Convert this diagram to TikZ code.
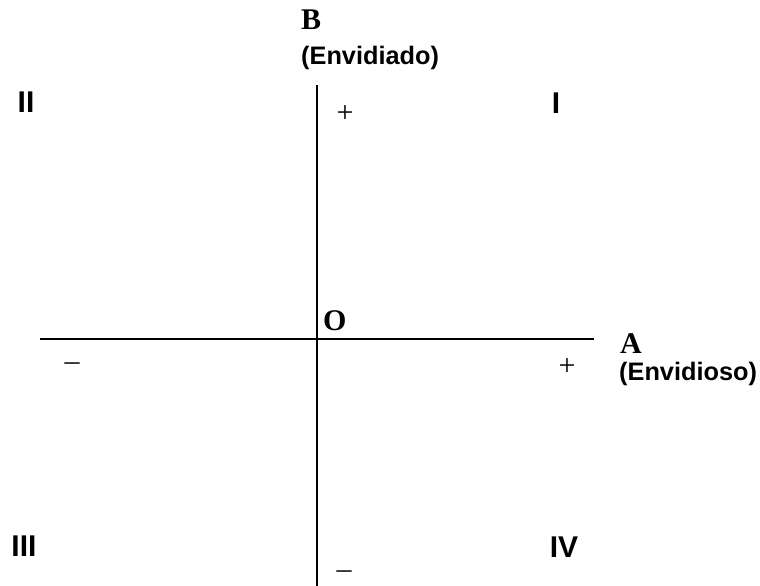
\documentclass[tikz,border=0pt]{standalone}
\usepackage{fontspec}
\setmainfont{Liberation Serif}
\setsansfont{Liberation Sans}
\usepackage{xcolor}
\definecolor{AxisBlack}{HTML}{000000}

\begin{document}
\begin{tikzpicture}[x=1pt, y=-1pt,
        axisline/.style={draw=AxisBlack, line width=2pt},
        axisname/.style={inner sep=0pt, anchor=base west, font=\fontsize{30}{30}\selectfont\bfseries\rmfamily},
        axisnote/.style={inner sep=0pt, anchor=base west, font=\fontsize{25.3}{25.3}\selectfont\bfseries\sffamily},
        quadrant/.style={inner sep=0pt, anchor=base, font=\fontsize{30}{30}\selectfont\bfseries\sffamily},
        signmark/.style={inner sep=0pt, anchor=base, font=\fontsize{30}{30}\selectfont\rmfamily}]
            \useasboundingbox (0,0) rectangle (760,586);

            % Axes
            \coordinate (topB) at (317,85);
            \coordinate (bottomB) at (317,586);
            \coordinate (leftA) at (40,339);
            \coordinate (rightA) at (594,339);
            \draw[axisline] (topB) -- (bottomB);
            \draw[axisline] (leftA) -- (rightA);

            % Axis names
            \node[axisname] (nameB) at (301,30) {B};
            \node[axisnote] (noteB) at (301,65) {(Envidiado)};
            \node[axisname] (nameA) at (620,353) {A};
            \node[axisnote] (noteA) at (619,380) {(Envidioso)};
            \node[axisname] (origin) at (323,330) {O};

            % Quadrants
            \node[quadrant] (quadI) at (556,113) {I};
            \node[quadrant] (quadII) at (26,112) {II};
            \node[quadrant] (quadIII) at (24,556) {III};
            \node[quadrant] (quadIV) at (564,557) {IV};

            % Signs
            \node[signmark] (plusB) at (345,122) {+};
            \node[signmark] (minusB) at (344,578) {\textendash};
            \node[signmark] (plusA) at (567,375) {+};
            \node[signmark] (minusA) at (72,370) {\textendash};
        \end{tikzpicture}
\end{document}
